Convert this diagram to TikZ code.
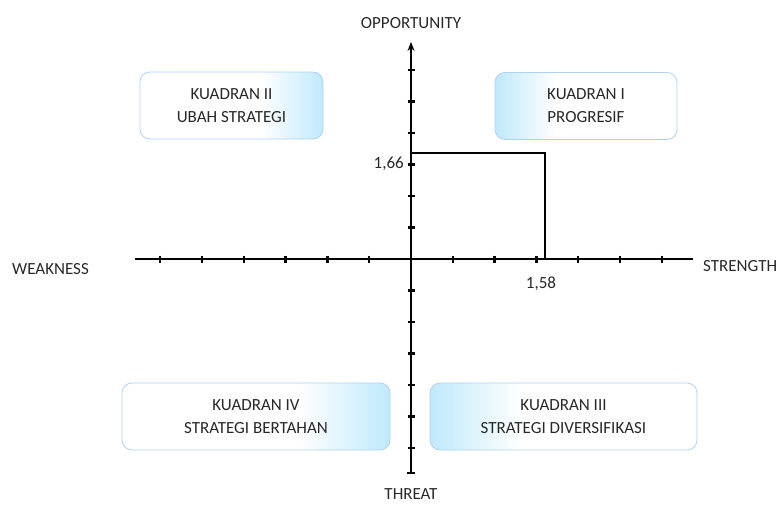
\documentclass[tikz,border=0pt]{standalone}
\usepackage{fontspec}
\setmainfont{Carlito}
\usetikzlibrary{arrows.meta,calc}
\definecolor{boxline}{RGB}{175,210,240}
\definecolor{boxblue}{RGB}{192,233,252}
\definecolor{txt}{RGB}{40,40,40}
\pgfdeclarehorizontalshading{fadeR}{100bp}{color(0bp)=(white); color(25bp)=(white); color(58bp)=(white); color(75bp)=(boxblue); color(100bp)=(boxblue)}
\pgfdeclarehorizontalshading{fadeL}{100bp}{color(0bp)=(boxblue); color(25bp)=(boxblue); color(42bp)=(white); color(75bp)=(white); color(100bp)=(white)}

\begin{document}
\begin{tikzpicture}[x=1pt,y=-1pt,
  kuadran/.style={draw=boxline,line width=0.8pt,rounded corners=10pt,inner sep=0pt,minimum width=#1,minimum height=67pt,align=center,text=txt,font=\fontsize{17}{23}\selectfont},
  lbl/.style={text=txt,inner sep=0pt,font=\fontsize{17}{20}\selectfont},
  axis/.style={line width=2.2pt},
  tick/.style={line width=2.4pt}]
\useasboundingbox (0,0) rectangle (777,504);
\coordinate (O) at (411,259); \coordinate (W) at (135,259); \coordinate (E) at (693,259);
\coordinate (N) at (411,42); \coordinate (S) at (411,473);
\coordinate (P) at (545,153); \coordinate (Py) at (411,153); \coordinate (Px) at (545,259);
% kuadran
\node[kuadran=183pt,shading=fadeR] (k2) at (231.5,105.5) {KUADRAN II\\UBAH STRATEGI};
\node[kuadran=182pt,shading=fadeL] (k1) at (586,106) {KUADRAN I\\PROGRESIF};
\node[kuadran=268pt,shading=fadeR] (k4) at (256,416.5) {KUADRAN IV\\STRATEGI BERTAHAN};
\node[kuadran=267pt,shading=fadeL] (k3) at (563.5,416.5) {KUADRAN III\\STRATEGI DIVERSIFIKASI};
% sumbu
\draw[axis] (W)--(E);
\draw[axis,-{Stealth[length=9pt,width=7pt]}] (S)--(N);
\foreach \i in {1,...,6} {
  \draw[tick] ($(O)+(-41.8*\i,-3.5)$)--($(O)+(-41.8*\i,3.5)$);
  \draw[tick] ($(O)+(41.8*\i,-3.5)$)--($(O)+(41.8*\i,3.5)$);
  \draw[tick] ($(O)+(-3.5,-31.5*\i)$)--($(O)+(3.5,-31.5*\i)$);
  \draw[tick] ($(O)+(-3.5,31.5*\i)$)--($(O)+(3.5,31.5*\i)$);
}
\draw[tick] ($(S)+(-4,0)$)--($(S)+(4,0)$);
\draw[line width=2pt] (Py)--(P)--(Px);
% label
\node[lbl] (opp) at (411,23) {OPPORTUNITY};
\node[lbl] (thr) at (411,494) {THREAT};
\node[lbl,anchor=west] (weak) at (12,269) {WEAKNESS};
\node[lbl,anchor=west] (str) at (703,266.5) {STRENGTH};
\node[lbl,anchor=east] (y166) at (404,164) {1,66};
\node[lbl] (x158) at (541,283.5) {1,58};
\end{tikzpicture}
\end{document}
